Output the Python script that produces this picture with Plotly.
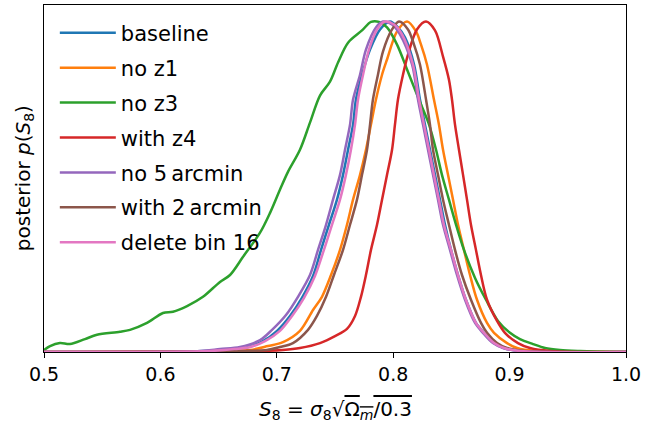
import plotly.graph_objects as go

# ---- data (S8 value, normalised posterior) ----
baseline_x = [0.5, 0.6383, 0.6598, 0.6753, 0.6881, 0.7002, 0.7113, 0.7216, 0.7311, 0.7380, 0.7448, 0.7517, 0.7569,
              0.7612, 0.7655, 0.7680, 0.7732, 0.7801, 0.7887, 0.7973,
              0.8041, 0.8101, 0.8179, 0.8230, 0.8273, 0.8316, 0.8359, 0.8402, 0.8445, 0.8497, 0.8557, 0.8625,
              0.8711, 0.8780, 0.8866, 0.8952, 0.9089, 1.0]
baseline_y = [0.0, 0.003, 0.009, 0.015, 0.033, 0.064, 0.109, 0.164, 0.230, 0.309, 0.385, 0.461, 0.536,
              0.612, 0.688, 0.764, 0.839, 0.915, 0.976, 1.0,
              0.982, 0.952, 0.870, 0.764, 0.688, 0.612, 0.536, 0.461, 0.385, 0.309, 0.233, 0.158,
              0.088, 0.058, 0.027, 0.012, 0.003, 0.0]

noz1_x = [0.5, 0.6555, 0.6770, 0.6924, 0.7053, 0.7199, 0.7311, 0.7388, 0.7466, 0.7543, 0.7603, 0.7655, 0.7715,
          0.7766, 0.7809, 0.7852, 0.7904, 0.7947, 0.8033, 0.8119,
          0.8196, 0.8239, 0.8290, 0.8350, 0.8393, 0.8428, 0.8471, 0.8514, 0.8557, 0.8608, 0.8660, 0.8720,
          0.8806, 0.8866, 0.8978, 0.9064, 0.9218, 1.0]
noz1_y = [0.0, 0.003, 0.006, 0.018, 0.030, 0.064, 0.127, 0.167, 0.233, 0.309, 0.385, 0.461, 0.536,
          0.612, 0.688, 0.764, 0.839, 0.885, 0.970, 1.0,
          0.970, 0.930, 0.870, 0.764, 0.688, 0.612, 0.536, 0.461, 0.385, 0.309, 0.233, 0.158,
          0.088, 0.058, 0.027, 0.012, 0.003, 0.0]

noz3_x = [0.5, 0.5052, 0.5137, 0.5223, 0.5352, 0.5455, 0.5653, 0.5739, 0.5885, 0.6022, 0.6108, 0.6229, 0.6366,
          0.6512, 0.6598, 0.6710, 0.6856, 0.6942, 0.7027, 0.7096, 0.7199, 0.7285, 0.7371, 0.7457, 0.7526,
          0.7612, 0.7732, 0.7809, 0.7878,
          0.7947, 0.8033, 0.8119, 0.8187, 0.8247, 0.8308, 0.8368, 0.8419, 0.8479, 0.8540, 0.8608, 0.8703,
          0.8797, 0.8900, 0.9003, 0.9089, 0.9201, 0.9304, 0.9433, 0.9605, 1.0]
noz3_y = [0.006, 0.018, 0.027, 0.024, 0.039, 0.052, 0.061, 0.067, 0.088, 0.118, 0.122, 0.139, 0.167,
          0.212, 0.233, 0.288, 0.361, 0.421, 0.491, 0.545, 0.612, 0.694, 0.776, 0.818, 0.876,
          0.936, 0.973, 0.999, 0.999,
          0.982, 0.930, 0.855, 0.794, 0.742, 0.688, 0.612, 0.536, 0.461, 0.385, 0.309, 0.224,
          0.158, 0.094, 0.058, 0.039, 0.024, 0.012, 0.006, 0.003, 0.0]

withz4_x = [0.5, 0.6856, 0.7053, 0.7199, 0.7371, 0.7500, 0.7603, 0.7672, 0.7723, 0.7766, 0.7809, 0.7861, 0.7904,
            0.7947, 0.7990, 0.8015, 0.8041, 0.8084, 0.8127, 0.8204, 0.8282,
            0.8359, 0.8428, 0.8479, 0.8505, 0.8531, 0.8565, 0.8600, 0.8634, 0.8668, 0.8711, 0.8754, 0.8806,
            0.8892, 0.8960, 0.9072, 0.9175, 0.9347, 1.0]
withz4_y = [0.0, 0.003, 0.006, 0.012, 0.027, 0.048, 0.070, 0.109, 0.167, 0.233, 0.309, 0.385, 0.461,
            0.536, 0.612, 0.688, 0.764, 0.839, 0.900, 0.976, 1.0,
            0.973, 0.894, 0.824, 0.764, 0.688, 0.612, 0.536, 0.461, 0.385, 0.309, 0.233, 0.158,
            0.094, 0.058, 0.027, 0.012, 0.003, 0.0]

no5_x = [0.5, 0.6340, 0.6512, 0.6684, 0.6856, 0.6959, 0.7079, 0.7182, 0.7285, 0.7354, 0.7423, 0.7483, 0.7543,
         0.7586, 0.7629, 0.7655, 0.7715, 0.7766, 0.7852, 0.7912,
         0.7990, 0.8058, 0.8162, 0.8213, 0.8256, 0.8299, 0.8342, 0.8385, 0.8428, 0.8488, 0.8548, 0.8617,
         0.8703, 0.8771, 0.8857, 0.8943, 0.9089, 1.0]
no5_y = [0.0, 0.003, 0.009, 0.015, 0.036, 0.067, 0.112, 0.167, 0.233, 0.309, 0.385, 0.461, 0.536,
         0.612, 0.688, 0.764, 0.839, 0.915, 0.982, 1.0,
         0.991, 0.961, 0.870, 0.764, 0.688, 0.612, 0.536, 0.461, 0.385, 0.309, 0.233, 0.158,
         0.088, 0.058, 0.027, 0.012, 0.003, 0.0]

with2_x = [0.5, 0.6684, 0.6916, 0.7027, 0.7139, 0.7268, 0.7345, 0.7423, 0.7491, 0.7569, 0.7629, 0.7689, 0.7732,
           0.7775, 0.7801, 0.7826, 0.7869, 0.7912, 0.7990, 0.8050,
           0.8127, 0.8179, 0.8230, 0.8282, 0.8316, 0.8342, 0.8385, 0.8428, 0.8479, 0.8531, 0.8591, 0.8668,
           0.8754, 0.8806, 0.8892, 0.8978, 0.9132, 1.0]
with2_y = [0.0, 0.003, 0.006, 0.015, 0.027, 0.067, 0.109, 0.167, 0.233, 0.309, 0.385, 0.461, 0.536,
           0.612, 0.688, 0.764, 0.839, 0.909, 0.976, 1.0,
           0.976, 0.930, 0.870, 0.764, 0.688, 0.612, 0.536, 0.461, 0.385, 0.309, 0.233, 0.158,
           0.088, 0.058, 0.027, 0.012, 0.003, 0.0]

del16_x = [0.5, 0.6426, 0.6641, 0.6770, 0.6899, 0.7027, 0.7131, 0.7234, 0.7328, 0.7405, 0.7474, 0.7543, 0.7594,
           0.7637, 0.7672, 0.7698, 0.7741, 0.7792, 0.7861, 0.7930,
           0.8007, 0.8076, 0.8170, 0.8222, 0.8265, 0.8308, 0.8350, 0.8393, 0.8436, 0.8497, 0.8557, 0.8625,
           0.8711, 0.8780, 0.8866, 0.8952, 0.9089, 1.0]
del16_y = [0.0, 0.003, 0.009, 0.015, 0.033, 0.064, 0.109, 0.164, 0.230, 0.309, 0.385, 0.461, 0.536,
           0.612, 0.688, 0.764, 0.839, 0.915, 0.976, 1.0,
           0.991, 0.961, 0.870, 0.764, 0.688, 0.612, 0.536, 0.461, 0.385, 0.309, 0.233, 0.158,
           0.088, 0.058, 0.027, 0.012, 0.003, 0.0]

series_names = ["baseline", "no z1", "no z3", "with z4", "no 5\u2009arcmin", "with 2\u2009arcmin", "delete bin 16"]
series_x = [baseline_x, noz1_x, noz3_x, withz4_x, no5_x, with2_x, del16_x]
series_y = [baseline_y, noz1_y, noz3_y, withz4_y, no5_y, with2_y, del16_y]
colors = ["#1f77b4", "#ff7f0e", "#2ca02c", "#d62728", "#9467bd", "#8c564b", "#e377c2"]

x_ticks = [0.5, 0.6, 0.7, 0.8, 0.9, 1.0]
x_tick_labels = ["0.5", "0.6", "0.7", "0.8", "0.9", "1.0"]

fig = go.Figure()
for i, (name, xs, ys, col) in enumerate(zip(series_names, series_x, series_y, colors)):
    fig.add_trace(go.Scatter(x=xs, y=ys, mode="lines", name=name, legendgroup=str(i),
                             line=dict(color=col, width=2.5, shape="spline", smoothing=0.9)))

FONT = "DejaVu Sans"
fig.update_layout(
    width=666, height=425,
    margin=dict(l=44, r=40, t=5, b=73),
    paper_bgcolor="white", plot_bgcolor="white",
    font=dict(family=FONT, size=20, color="black"),
    showlegend=True,
    legend=dict(x=0.0186, y=0.978, xanchor="left", yanchor="top", bgcolor="rgba(0,0,0,0)",
                font=dict(size=21), tracegroupgap=4.6, itemwidth=56),
    xaxis=dict(range=[0.5, 1.0], tickvals=x_ticks, ticktext=x_tick_labels, ticks="outside",
               ticklen=5, tickwidth=1.2, tickcolor="black", showline=True, linecolor="black",
               linewidth=1.3, mirror=True, showgrid=False, zeroline=False,
               tickfont=dict(size=19)),
    yaxis=dict(range=[0, 1.05], showticklabels=False, ticks="", showline=True, linecolor="black",
               linewidth=1.3, mirror=True, showgrid=False, zeroline=False),
    annotations=[
        dict(text="posterior <i>p</i>(<i>S</i><sub>8</sub>)", xref="paper", yref="paper",
             x=-0.035, y=0.50, xanchor="center", yanchor="middle", textangle=-90,
             showarrow=False, font=dict(size=20)),
        dict(text="<i>S</i><sub>8</sub> = <i>σ</i><sub>8</sub>√<span style=\"text-decoration:overline\">Ω<sub><i>m</i></sub>/0.3</span>",
             xref="paper", yref="paper", x=0.5, y=-0.168, xanchor="center", yanchor="middle",
             showarrow=False, font=dict(size=20)),
    ],
)

fig.write_html("out.html", config={"displayModeBar": False},
               post_script="document.body.style.margin='0';document.body.style.overflow='hidden';")
